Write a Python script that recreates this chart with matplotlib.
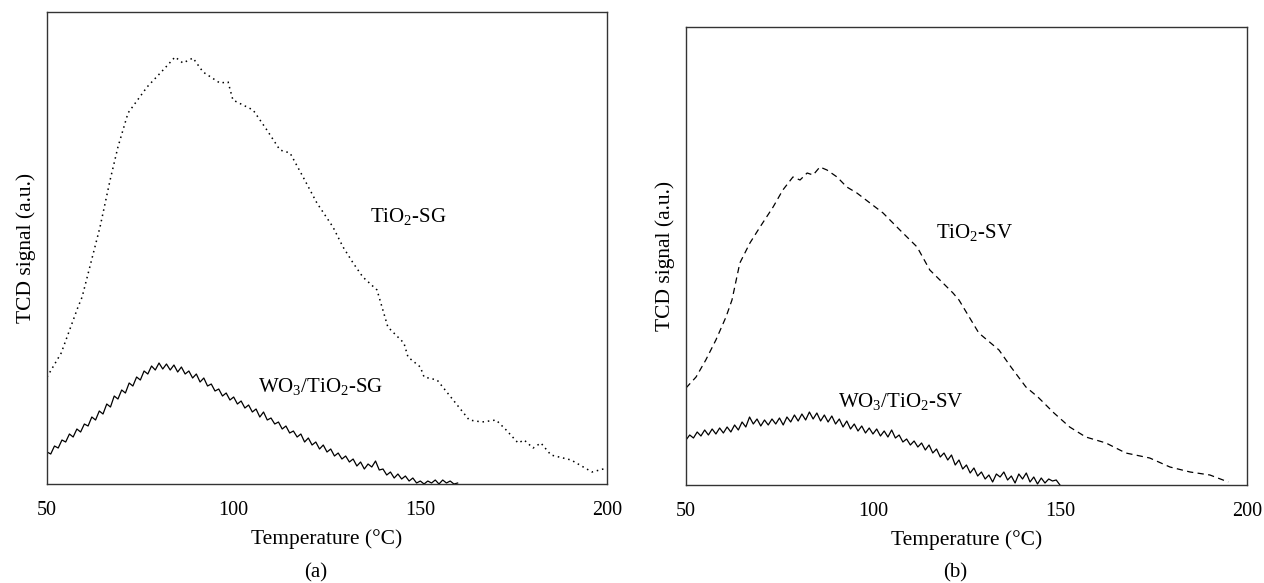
"""TCD profiles for TiO2 and WO3/TiO2 samples, panels (a) SG and (b) SV."""
import matplotlib
matplotlib.use("Agg")
import matplotlib.pyplot as plt

plt.rcParams["font.family"] = ["Liberation Serif", "DejaVu Serif"]
plt.rcParams["mathtext.fontset"] = "custom"
plt.rcParams["mathtext.rm"] = "Liberation Serif"

# ---- panel (a): sol-gel ----
sg_temp = [50, 53.8, 58.3, 59.4, 64.2, 66.9, 69.0, 71.7, 76.8, 81.1, 84.3, 86.4,
           89.1, 91.8, 96.3, 98.5, 99.8, 105.2, 108.9, 112.4, 115.1, 118.6, 122.3,
           126.6, 129.3, 132.0, 134.6, 138.4, 141.3, 145.6, 146.7, 150, 151, 154.5,
           158.8, 163.1, 166.5, 170.3, 173, 176.2, 177.8, 180.2, 182.3, 185, 190.4,
           196, 200]
sg_tio2 = [107, 131, 177, 187, 257, 304, 337, 371, 397, 414, 427, 421,
           426, 412, 401, 402, 384, 374, 354, 334, 331, 307, 281,
           257, 237, 221, 207, 194, 157, 141, 127, 117, 107, 104,
           84, 64, 62, 64, 54, 41, 44, 36, 41, 29, 24,
           12, 16]

sg_wo3_temp = list(range(50, 161))
sg_wo3 = [32, 30, 38, 36, 44, 42, 50, 47, 55, 52, 60, 58, 67, 64, 73, 70, 80, 77,
          88, 85, 94, 91, 101, 98, 107, 104, 113, 110, 118, 114, 121, 115, 120, 114,
          119, 112, 117, 110, 113, 106, 110, 102, 106, 98, 100, 93, 95, 88, 91, 84,
          87, 80, 83, 76, 79, 72, 75, 67, 72, 64, 66, 60, 62, 55, 58, 51, 53, 47,
          50, 42, 46, 39, 42, 35, 39, 32, 35, 28, 31, 25, 28, 22, 25, 18, 22, 15,
          20, 17, 23, 14, 15, 9, 12, 6, 10, 5, 8, 3, 6, 1, 3, 0, 3, 1, 4, 0, 4, 1,
          3, 0, 1]

# ---- panel (b): SV ----
sv_temp = [50, 52.7, 55.3, 58, 60.7, 62.3, 64.4, 67.1, 69.8, 73.3, 75.9, 78.6,
           80.5, 82.4, 84, 85.8, 87.7, 90.4, 93, 95.7, 99.2, 102.7, 107.2, 111.8,
           115.2, 117.9, 121.4, 123, 128.3, 133.7, 136.9, 140.9, 144.1, 148.4,
           152.6, 156.9, 162.3, 167.6, 174, 179.4, 184.8, 190.1, 195]
sv_tio2 = [97, 108, 125, 145, 168, 185, 222, 242, 258, 278, 295, 308,
           305, 312, 310, 318, 315, 308, 298, 292, 282, 272, 255, 238,
           215, 205, 192, 185, 152, 135, 118, 98, 88, 72,
           58, 48, 42, 32, 27, 18, 13, 10, 3]

sv_wo3_temp = list(range(50, 151))
sv_wo3 = [45, 50, 47, 53, 49, 55, 50, 56, 51, 57, 52, 58, 53, 60, 55, 63, 58, 68,
          61, 66, 59, 65, 60, 66, 61, 67, 60, 68, 63, 70, 64, 71, 65, 73, 66, 72,
          64, 70, 63, 69, 61, 66, 58, 64, 56, 61, 54, 59, 52, 57, 51, 56, 49, 54,
          48, 55, 47, 50, 43, 46, 40, 44, 38, 42, 35, 40, 32, 36, 28, 32, 25, 30,
          20, 25, 16, 20, 12, 17, 9, 13, 6, 10, 3, 11, 8, 13, 5, 9, 2, 11, 6, 12,
          3, 8, 1, 7, 2, 6, 4, 5, 0]

fig = plt.figure(figsize=(12.64, 5.83), dpi=100)
ax_a = fig.add_axes([0.0372, 0.1698, 0.443, 0.8096])
ax_b = fig.add_axes([0.5427, 0.1681, 0.4438, 0.7856])

ax_a.plot(sg_temp, sg_tio2, color="black", lw=1.1, linestyle=(0, (1, 2.5)))
ax_a.plot(sg_wo3_temp, sg_wo3, color="black", lw=0.9)
ax_a.set_ylim(0, 472)
ax_a.text(146.7, 267, "TiO$_2$-SG", ha="center", va="center", fontsize=15)
ax_a.text(123.4, 97, "WO$_3$/TiO$_2$-SG", ha="center", va="center", fontsize=15)

ax_b.plot(sv_temp, sv_tio2, color="black", lw=0.9, linestyle=(0, (5, 3.5)))
ax_b.plot(sv_wo3_temp, sv_wo3, color="black", lw=0.9)
ax_b.set_ylim(0, 458)
ax_b.text(127.3, 252, "TiO$_2$-SV", ha="center", va="center", fontsize=15)
ax_b.text(107.5, 83, "WO$_3$/TiO$_2$-SV", ha="center", va="center", fontsize=15)

for ax in (ax_a, ax_b):
    ax.set_xlim(50, 200)
    ax.set_xticks([50, 100, 150, 200])
    ax.set_yticks([])
    ax.tick_params(axis="x", length=0, pad=12, labelsize=14.5)
    ax.set_xlabel("Temperature (°C)", fontsize=15.5, labelpad=7)
    ax.set_ylabel("TCD signal (a.u.)", fontsize=15.5, labelpad=8)
    for sp in ax.spines.values():
        sp.set_color("#333333")
        sp.set_linewidth(1.0)

fig.text(316 / 1264, 1 - 573 / 583, "(a)", ha="center", va="center", fontsize=15)
fig.text(955 / 1264, 1 - 573 / 583, "(b)", ha="center", va="center", fontsize=15)

fig.savefig("out.png", dpi=100)
